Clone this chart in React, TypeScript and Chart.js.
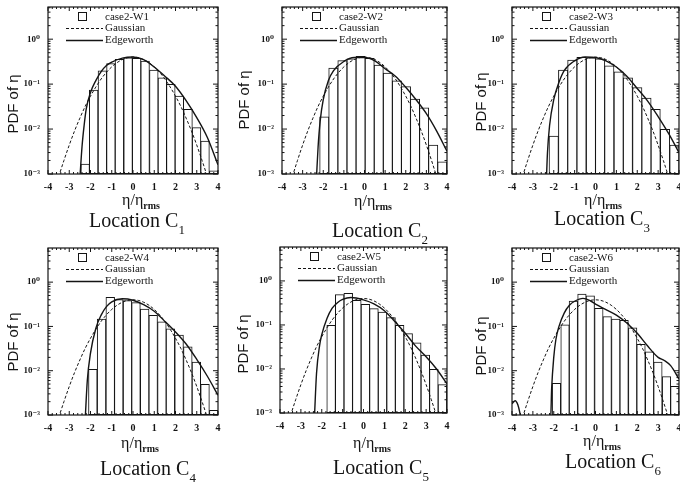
import React, { useEffect, useRef } from 'react';
import { Chart, registerables } from 'chart.js';

Chart.register(...registerables);

// ---------- data ----------
const yTickValues = [0.001, 0.01, 0.1, 1];
const yTickLabels = ['10⁻³', '10⁻²', '10⁻¹', '10⁰'];

const gaussX = [-3.5, -3.25, -3, -2.75, -2.5, -2.25, -2, -1.75, -1.5, -1.25, -1, -0.75, -0.5, -0.25, 0, 0.25, 0.5, 0.75, 1, 1.25, 1.5, 1.75, 2, 2.25, 2.5, 2.75, 3, 3.25, 3.5];
const gaussPdf = [0.00087, 0.002, 0.0044, 0.0091, 0.0175, 0.032, 0.054, 0.086, 0.13, 0.183, 0.242, 0.301, 0.352, 0.387, 0.399, 0.387, 0.352, 0.301, 0.242, 0.183, 0.13, 0.086, 0.054, 0.032, 0.0175, 0.0091, 0.0044, 0.002, 0.00087];

const binsW1 = [-2.25, -1.85, -1.44, -1.04, -0.64, -0.23, 0.17, 0.57, 0.98, 1.38, 1.78, 2.18, 2.59, 2.99, 3.39, 3.8];
const pdfW1 = [0.0017, 0.075, 0.2, 0.29, 0.36, 0.39, 0.38, 0.33, 0.21, 0.14, 0.1, 0.055, 0.028, 0.011, 0.0055, 0.0012];
const edgeXW1 = [-2.5, -2.4, -2.3, -2.2, -2.0, -1.75, -1.5, -1.25, -1.0, -0.5, 0, 0.5, 1.0, 1.5, 2.0, 2.5, 3.0, 3.5, 4.0];
const edgeW1 = [0.0008, 0.004, 0.012, 0.028, 0.065, 0.12, 0.19, 0.26, 0.31, 0.38, 0.4, 0.35, 0.24, 0.15, 0.09, 0.043, 0.018, 0.0065, 0.0016];

const binsW2 = [-1.95, -1.51, -1.07, -0.63, -0.19, 0.25, 0.69, 1.13, 1.57, 2.01, 2.45, 2.89, 3.33, 3.77];
const pdfW2 = [0.019, 0.23, 0.34, 0.37, 0.42, 0.38, 0.27, 0.18, 0.12, 0.09, 0.047, 0.03, 0.0045, 0.0019];
const edgeXW2 = [-2.33, -2.25, -2.15, -2.0, -1.75, -1.5, -1.0, -0.5, 0, 0.5, 1.0, 1.5, 2.0, 2.5, 3.0, 3.5, 4.0];
const edgeW2 = [0.0008, 0.004, 0.015, 0.045, 0.12, 0.2, 0.32, 0.39, 0.39, 0.33, 0.22, 0.15, 0.085, 0.045, 0.022, 0.009, 0.0032];

const binsW3 = [-2.0, -1.55, -1.11, -0.67, -0.22, 0.22, 0.66, 1.11, 1.55, 2.0, 2.44, 2.88, 3.33, 3.78];
const pdfW3 = [0.0071, 0.21, 0.35, 0.4, 0.39, 0.37, 0.26, 0.19, 0.14, 0.085, 0.05, 0.028, 0.01, 0.0045];
const edgeXW3 = [-2.35, -2.3, -2.2, -2.0, -1.75, -1.5, -1.0, -0.5, 0, 0.5, 1.0, 1.5, 2.0, 2.5, 3.0, 3.5, 4.0];
const edgeW3 = [0.0008, 0.003, 0.012, 0.045, 0.11, 0.2, 0.33, 0.4, 0.39, 0.33, 0.24, 0.15, 0.08, 0.042, 0.019, 0.008, 0.003];

const binsW4 = [-1.89, -1.48, -1.07, -0.67, -0.26, 0.14, 0.55, 0.95, 1.36, 1.76, 2.17, 2.58, 2.98, 3.39, 3.8];
const pdfW4 = [0.011, 0.15, 0.46, 0.41, 0.39, 0.35, 0.25, 0.18, 0.13, 0.09, 0.065, 0.035, 0.016, 0.005, 0.0013];
const edgeXW4 = [-2.25, -2.15, -2.0, -1.75, -1.5, -1.25, -1.0, -0.5, 0, 0.5, 1.0, 1.5, 2.0, 2.5, 3.0, 3.5, 4.0];
const edgeW4 = [0.0008, 0.006, 0.025, 0.09, 0.18, 0.28, 0.36, 0.42, 0.39, 0.31, 0.22, 0.13, 0.075, 0.04, 0.018, 0.0075, 0.0028];

const binsW5 = [-1.55, -1.14, -0.73, -0.32, 0.09, 0.5, 0.91, 1.32, 1.73, 2.14, 2.55, 2.96, 3.37, 3.78];
const pdfW5 = [0.1, 0.5, 0.53, 0.37, 0.3, 0.24, 0.2, 0.15, 0.1, 0.065, 0.04, 0.021, 0.01, 0.0045];
const edgeXW5 = [-2.35, -2.25, -2.1, -2.0, -1.75, -1.5, -1.25, -1.0, -0.6, 0, 0.5, 1.0, 1.5, 2.0, 2.5, 3.0, 3.5, 4.0];
const edgeW5 = [0.0008, 0.008, 0.035, 0.06, 0.14, 0.24, 0.32, 0.38, 0.42, 0.37, 0.3, 0.21, 0.12, 0.065, 0.033, 0.019, 0.01, 0.0046];

const binsW6 = [-1.87, -1.46, -1.06, -0.65, -0.25, 0.16, 0.56, 0.97, 1.37, 1.78, 2.18, 2.59, 2.99, 3.4, 3.8];
const pdfW6 = [0.0053, 0.11, 0.38, 0.55, 0.5, 0.26, 0.17, 0.15, 0.14, 0.095, 0.04, 0.027, 0.016, 0.0075, 0.0045];
const edgeXW6 = [-4.0, -3.85, -3.72, -3.62, -3.57, -2.15, -2.1, -2.0, -1.9, -1.75, -1.5, -1.25, -1.0, -0.6, -0.25, 0, 0.5, 1.0, 1.5, 2.0, 2.5, 3.0, 3.3, 3.6, 4.0];
const edgeW6 = [0.0018, 0.0021, 0.0017, 0.0011, 0.0008, 0.0008, 0.004, 0.02, 0.05, 0.1, 0.2, 0.3, 0.37, 0.43, 0.38, 0.32, 0.24, 0.18, 0.12, 0.07, 0.036, 0.02, 0.017, 0.013, 0.0065];

const caseNames = ['case2-W1', 'case2-W2', 'case2-W3', 'case2-W4', 'case2-W5', 'case2-W6'];
const locationIndex = ['1', '2', '3', '4', '5', '6'];
const seriesNames = ['Gaussian', 'Edgeworth'];

const panelsData = [
  { bins: binsW1, pdf: pdfW1, ex: edgeXW1, ey: edgeW1 },
  { bins: binsW2, pdf: pdfW2, ex: edgeXW2, ey: edgeW2 },
  { bins: binsW3, pdf: pdfW3, ex: edgeXW3, ey: edgeW3 },
  { bins: binsW4, pdf: pdfW4, ex: edgeXW4, ey: edgeW4 },
  { bins: binsW5, pdf: pdfW5, ex: edgeXW5, ey: edgeW5 },
  { bins: binsW6, pdf: pdfW6, ex: edgeXW6, ey: edgeW6 },
];

// ---------- layout (positions / sizes) ----------
const boxes = [
  { L: 48, R: 218, T: 7, B: 174, ymax: 5.2, yT: [12, 104], xT: [141, 201], loc: [137, 221] },
  { L: 282, R: 447, T: 7, B: 174, ymax: 5.2, yT: [243, 100], xT: [373, 202], loc: [380, 231] },
  { L: 512, R: 679, T: 7, B: 174, ymax: 5.2, yT: [480, 102], xT: [603, 201], loc: [602, 219] },
  { L: 48, R: 218, T: 248, B: 415, ymax: 5.9, yT: [12, 342], xT: [140, 444], loc: [148, 469] },
  { L: 280, R: 447, T: 247, B: 413, ymax: 5.9, yT: [242, 344], xT: [372, 444], loc: [381, 468] },
  { L: 512, R: 679, T: 248, B: 415, ymax: 5.9, yT: [480, 346], xT: [602, 442], loc: [613, 462] },
];

const SERIF = "'Liberation Serif', 'Times New Roman', 'DejaVu Serif', serif";
const SANS = "'Liberation Sans', Arial, 'DejaVu Sans', sans-serif";
const INK = '#141414';
const Y_AXIS_W = 48;
const X_AXIS_H = 22;
const PAD_TOP = 5;

const frameLegendPlugin = {
  id: 'frameLegend',
  afterDatasetsDraw(chart: any) {
    const { ctx, chartArea: a } = chart;
    const xs = chart.scales.x;
    const ys = chart.scales.y;
    ctx.save();
    ctx.strokeStyle = INK;
    ctx.setLineDash([]);
    ctx.lineWidth = 1.2;
    ctx.strokeRect(a.left, a.top, a.right - a.left, a.bottom - a.top);
    ctx.lineWidth = 1;
    ctx.beginPath();
    for (let i = -20; i <= 20; i++) {
      const px = xs.getPixelForValue(i / 5);
      const len = i % 5 === 0 ? 4 : 2;
      ctx.moveTo(px, a.bottom);
      ctx.lineTo(px, a.bottom - len);
      ctx.moveTo(px, a.top);
      ctx.lineTo(px, a.top + len);
    }
    for (let e = -3; e <= 0; e++) {
      for (let m = 1; m <= 9; m++) {
        const v = m * Math.pow(10, e);
        if (v > ys.max) break;
        const py = ys.getPixelForValue(v);
        const len = m === 1 ? 5 : 2.5;
        ctx.moveTo(a.left, py);
        ctx.lineTo(a.left + len, py);
        ctx.moveTo(a.right, py);
        ctx.lineTo(a.right - len, py);
      }
    }
    ctx.stroke();

    // legend inside the plot
    const ds = chart.data.datasets;
    ctx.font = `11px ${SERIF}`;
    ctx.fillStyle = INK;
    ctx.textBaseline = 'middle';
    ctx.textAlign = 'left';
    const tx = a.left + 57;
    ctx.lineWidth = 1;
    ctx.strokeRect(a.left + 30.5, a.top + 5.5, 8, 8);
    ctx.fillText(ds[0].label, tx, a.top + 10);
    ctx.beginPath();
    ctx.setLineDash([3, 2]);
    ctx.moveTo(a.left + 18, a.top + 21.5);
    ctx.lineTo(a.left + 55, a.top + 21.5);
    ctx.stroke();
    ctx.fillText(ds[1].label, tx, a.top + 21);
    ctx.beginPath();
    ctx.setLineDash([]);
    ctx.lineWidth = 1.3;
    ctx.moveTo(a.left + 18, a.top + 33.5);
    ctx.lineTo(a.left + 55, a.top + 33.5);
    ctx.stroke();
    ctx.fillText(ds[2].label, tx, a.top + 33);
    ctx.restore();
  },
};

function Panel({ idx }: { idx: number }) {
  const ref = useRef<HTMLCanvasElement>(null);
  const g = boxes[idx];
  const padR = g.R >= 679 ? 1 : 6;
  const w = g.R - g.L + Y_AXIS_W + padR;
  const h = g.B - g.T + PAD_TOP + X_AXIS_H;

  useEffect(() => {
    const d = panelsData[idx];
    const xFont = { family: SERIF, size: 10, weight: 'bold' as const };
    const yFont = { family: SERIF, size: 9, weight: 'bold' as const };
    const chart = new Chart(ref.current as HTMLCanvasElement, {
      type: 'bar',
      data: {
        datasets: [
          {
            type: 'bar',
            label: caseNames[idx],
            data: d.bins.map((x, i) => ({ x, y: d.pdf[i] })),
            backgroundColor: 'rgba(255,255,255,0)',
            borderColor: INK,
            borderWidth: 1,
            borderSkipped: false,
            barPercentage: 1.1,
            categoryPercentage: 1,
            order: 3,
          } as any,
          {
            type: 'line',
            label: seriesNames[0],
            data: gaussX.map((x, i) => ({ x, y: gaussPdf[i] })),
            borderColor: INK,
            borderWidth: 1,
            borderDash: [3, 2],
            pointRadius: 0,
            cubicInterpolationMode: 'monotone',
            fill: false,
            order: 2,
          } as any,
          {
            type: 'line',
            label: seriesNames[1],
            data: d.ex.map((x, i) => ({ x, y: d.ey[i] })),
            borderColor: INK,
            borderWidth: 1.4,
            pointRadius: 0,
            cubicInterpolationMode: 'monotone',
            fill: false,
            order: 1,
          } as any,
        ],
      },
      options: {
        responsive: false,
        animation: false,
        devicePixelRatio: 1,
        layout: { padding: { left: 0, right: padR, top: PAD_TOP, bottom: 0 } },
        plugins: { legend: { display: false }, tooltip: { enabled: false } },
        scales: {
          x: {
            type: 'linear',
            min: -4,
            max: 4,
            offset: false,
            grid: { display: false, drawTicks: false },
            border: { display: false },
            ticks: { stepSize: 1, padding: 7, color: INK, font: xFont, maxRotation: 0, autoSkip: false },
            afterFit: (s: any) => {
              s.height = X_AXIS_H;
              s.paddingLeft = 0;
              s.paddingRight = 0;
            },
          },
          y: {
            type: 'logarithmic',
            min: 0.001,
            max: g.ymax,
            grid: { display: false, drawTicks: false },
            border: { display: false },
            afterBuildTicks: (s: any) => {
              s.ticks = yTickValues.map((v) => ({ value: v }));
            },
            ticks: {
              padding: 8,
              color: INK,
              font: yFont,
              autoSkip: false,
              callback: (v: any) => {
                const k = yTickValues.indexOf(Number(v));
                return k >= 0 ? yTickLabels[k] : '';
              },
            },
            afterFit: (s: any) => {
              s.width = Y_AXIS_W;
              s.paddingTop = 0;
              s.paddingBottom = 0;
            },
          },
        },
      } as any,
      plugins: [frameLegendPlugin],
    });
    return () => chart.destroy();
  }, [idx]);

  return (
    <canvas
      ref={ref}
      width={w}
      height={h}
      style={{ position: 'absolute', left: g.L - Y_AXIS_W, top: g.T - PAD_TOP, width: w, height: h }}
    />
  );
}

function Labels({ idx }: { idx: number }) {
  const g = boxes[idx];
  const center = 'translate(-50%, -50%)';
  return (
    <>
      <div
        style={{
          position: 'absolute', left: g.yT[0], top: g.yT[1], transform: `${center} rotate(-90deg)`,
          fontFamily: SANS, fontSize: 15, lineHeight: '15px', whiteSpace: 'nowrap', color: INK,
        }}
      >
        PDF of η
      </div>
      <div
        style={{
          position: 'absolute', left: g.xT[0], top: g.xT[1], transform: center,
          fontFamily: SERIF, fontSize: 16, lineHeight: '16px', whiteSpace: 'nowrap', color: INK,
        }}
      >
        η/η<span style={{ position: 'relative', top: 4, fontSize: 10, fontWeight: 'bold' }}>rms</span>
      </div>
      <div
        style={{
          position: 'absolute', left: g.loc[0], top: g.loc[1], transform: center,
          fontFamily: SERIF, fontSize: 20, lineHeight: '20px', whiteSpace: 'nowrap', color: INK,
        }}
      >
        Location C<span style={{ position: 'relative', top: 7, fontSize: 13 }}>{locationIndex[idx]}</span>
      </div>
    </>
  );
}

export default function App() {
  return (
    <div style={{ position: 'absolute', left: 0, top: 0, width: 680, height: 485, overflow: 'hidden', background: '#fff' }}>
      {boxes.map((_, i) => (
        <Panel key={`p${i}`} idx={i} />
      ))}
      {boxes.map((_, i) => (
        <Labels key={`l${i}`} idx={i} />
      ))}
    </div>
  );
}
